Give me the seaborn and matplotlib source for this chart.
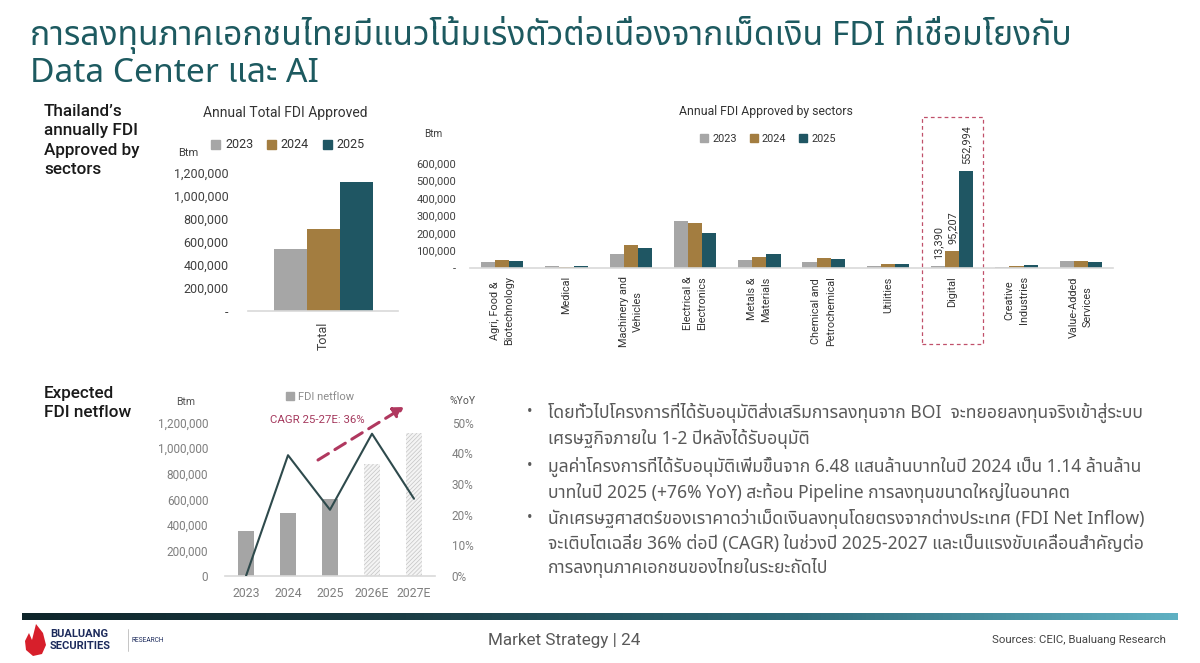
import numpy as np
import pandas as pd
import matplotlib
matplotlib.use("Agg")
import matplotlib.pyplot as plt
import seaborn as sns
from matplotlib import font_manager as fm
from matplotlib.ft2font import FT2Font
from matplotlib.patches import Rectangle, Polygon, Patch
from matplotlib.transforms import blended_transform_factory
from matplotlib.lines import Line2D
from matplotlib.colors import LinearSegmentedColormap
from matplotlib.ticker import FuncFormatter, FixedLocator

# ------------------------------------------------------------------ data
years = ["2023", "2024", "2025"]
total_fdi = [540000, 714000, 1122000]

sectors = ["Agri, Food &\nBiotechnology", "Medical", "Machinery and\nVehicles",
           "Electrical &\nElectronics", "Metals &\nMaterials", "Chemical and\nPetrochemical",
           "Utilities", "Digital", "Creative\nIndustries", "Value-Added\nServices"]
sector_2023 = [35000, 13000, 81000, 267000, 44000, 35000, 13000, 13390, 6000, 38000]
sector_2024 = [44000, 6000, 129000, 256000, 62000, 60000, 21000, 95207, 9000, 38000]
sector_2025 = [42000, 12000, 117000, 202000, 81000, 50000, 21000, 552994, 19000, 33000]
highlight_sector = "Digital"

netflow_years = ["2023", "2024", "2025", "2026E", "2027E"]
netflow = [352000, 496000, 603000, 877000, 1117000]
netflow_yoy = [0.0, 39.4, 21.6, 46.4, 25.2]
forecast_years = ["2026E", "2027E"]

ticks_total = [0, 200000, 400000, 600000, 800000, 1000000, 1200000]
ticks_sector = [0, 100000, 200000, 300000, 400000, 500000, 600000]
ticks_yoy = [0, 10, 20, 30, 40, 50]

title_lines = ["การลงทุนภาคเอกชนไทยมีแนวโน้มเร่งตัวต่อเนื่องจากเม็ดเงิน FDI ที่เชื่อมโยงกับ",
               "Data Center และ AI"]
bullet_lines = [
    ("•", "โดยทั่วไปโครงการที่ได้รับอนุมัติส่งเสริมการลงทุนจาก BOI  จะทยอยลงทุนจริงเข้าสู่ระบบ"),
    ("", "เศรษฐกิจภายใน 1-2 ปีหลังได้รับอนุมัติ"),
    ("•", "มูลค่าโครงการที่ได้รับอนุมัติเพิ่มขึ้นจาก 6.48 แสนล้านบาทในปี 2024 เป็น 1.14 ล้านล้าน"),
    ("", "บาทในปี 2025 (+76% YoY) สะท้อน Pipeline การลงทุนขนาดใหญ่ในอนาคต"),
    ("•", "นักเศรษฐศาสตร์ของเราคาดว่าเม็ดเงินลงทุนโดยตรงจากต่างประเทศ (FDI Net Inflow)"),
    ("", "จะเติบโตเฉลี่ย 36% ต่อปี (CAGR) ในช่วงปี 2025-2027 และเป็นแรงขับเคลื่อนสำคัญต่อ"),
    ("", "การลงทุนภาคเอกชนของไทยในระยะถัดไป"),
]

# ------------------------------------------------------------------ fonts
def find_thai_font():
    cands = []
    for f in fm.fontManager.ttflist:
        try:
            cmap = FT2Font(f.fname).get_charmap()
        except Exception:
            continue
        if 0x0E01 in cmap and 0x0E32 in cmap:
            n = f.name
            score = 3
            if "Noto Sans Thai" in n and "Looped" not in n:
                score = 0
            elif "Sans" in n and "Looped" not in n:
                score = 1
            elif "Looped" not in n:
                score = 2
            cands.append((score, n))
    cands.sort()
    return cands[0][1] if cands else None

sns.set_style("white")
thai = find_thai_font()
LAT = ["Roboto", "DejaVu Sans"]
TH = ([thai] if thai else []) + ["Roboto", "DejaVu Sans"]
plt.rcParams["font.family"] = LAT
plt.rcParams["hatch.linewidth"] = 0.5

C23, C24, C25 = "#a6a6a6", "#a37d40", "#1f5663"
palette = {"2023": C23, "2024": C24, "2025": C25}
TEAL = "#1d5a60"

W, H = 1200, 663
fig = plt.figure(figsize=(12, 6.63), dpi=100)
fig.patch.set_facecolor("white")

def rect(l, t, r, b):
    return [l / W, 1 - b / H, (r - l) / W, (b - t) / H]

def fx(x):
    return x / W

def fy(y):
    return 1 - y / H

def clean(ax, color="#d9d9d9"):
    for s in ["top", "right", "left"]:
        ax.spines[s].set_visible(False)
    ax.spines["bottom"].set_color(color)
    ax.spines["bottom"].set_linewidth(1.2)
    ax.tick_params(length=0)
    ax.set_xlabel("")
    ax.set_ylabel("")

# ------------------------------------------------------------------ title
fig.text(fx(30), fy(35), title_lines[0], family=TH, fontsize=24.2, fontweight="medium",
         color=TEAL, va="center", ha="left")
fig.text(fx(30), fy(73), title_lines[1], family=TH, fontsize=24.2, fontweight="medium",
         color=TEAL, va="center", ha="left")

# ------------------------------------------------------------------ chart 1
fig.text(fx(44), fy(104), "Thailand’s\nannually FDI\nApproved by\nsectors", fontsize=12.3,
         fontweight="medium", color="#1a1a1a", va="top", ha="left", linespacing=1.37)

ax1 = fig.add_axes(rect(248, 172.7, 398, 311))
df1 = pd.DataFrame({"cat": ["Total"] * len(years), "year": years, "value": total_fdi})
sns.barplot(data=df1, x="cat", y="value", hue="year", palette=palette, width=0.66,
            saturation=1, linewidth=0, legend=False, ax=ax1)
ax1.set_ylim(0, ticks_total[-1])
ax1.set_xlim(-0.5, 0.5)
ax1.yaxis.set_major_locator(FixedLocator(ticks_total))
ax1.yaxis.set_major_formatter(FuncFormatter(lambda v, p: "-" if v == 0 else f"{v:,.0f}"))
clean(ax1)
ax1.tick_params(axis="y", labelsize=9, labelcolor="#404040", pad=14)
ax1.tick_params(axis="x", labelsize=9, labelcolor="#404040", pad=8, labelrotation=90)
fig.text(fx(285), fy(113), "Annual Total FDI Approved", fontsize=10, color="#333333", ha="center", va="center")
fig.text(fx(178), fy(153), "Btm", fontsize=8, color="#404040", ha="left", va="center")
handles = [Patch(color=palette[y]) for y in years]
fig.legend(handles, years, loc="center", bbox_to_anchor=(fx(288), fy(145)), ncol=3, frameon=False,
           handlelength=0.7, handleheight=0.7, handletextpad=0.4, columnspacing=1.1, fontsize=9,
           labelcolor="#333333")

# ------------------------------------------------------------------ chart 2
ax2 = fig.add_axes(rect(470, 163, 1113, 268))
df2 = pd.DataFrame({
    "sector": sectors * 3,
    "year": [years[0]] * len(sectors) + [years[1]] * len(sectors) + [years[2]] * len(sectors),
    "value": sector_2023 + sector_2024 + sector_2025,
})
sns.barplot(data=df2, x="sector", y="value", hue="year", palette=palette, width=0.66,
            saturation=1, linewidth=0, legend=False, ax=ax2)
ax2.set_ylim(0, ticks_sector[-1])
ax2.yaxis.set_major_locator(FixedLocator(ticks_sector))
ax2.yaxis.set_major_formatter(FuncFormatter(lambda v, p: "-" if v == 0 else f"{v:,.0f}"))
clean(ax2)
ax2.tick_params(axis="y", labelsize=8, labelcolor="#404040", pad=10)
ax2.set_xticks(range(len(sectors)))
ax2.set_xticklabels(sectors, rotation=90, ha="center", va="top", multialignment="center",
                    linespacing=1.55, fontsize=7.8, color="#333333")
ax2.tick_params(axis="x", pad=6)
hi = sectors.index(highlight_sector)
series = [sector_2023, sector_2024, sector_2025]
for cont, vals in zip(ax2.containers, series):
    bar = cont.patches[hi]
    ax2.annotate(f"{vals[hi]:,}", (bar.get_x() + bar.get_width() / 2, bar.get_height()),
                 xytext=(0, 5), textcoords="offset points", rotation=90, ha="center", va="bottom",
                 fontsize=7.8, color="#333333", annotation_clip=False)
tr = blended_transform_factory(ax2.transData, fig.transFigure)
ax2.add_patch(Rectangle((hi - 0.47, fy(344)), 0.95, fy(117) - fy(344), transform=tr, fill=False,
                        edgecolor="#c0506a", linestyle=(0, (3, 2.5)), linewidth=0.9, clip_on=False))
fig.text(fx(766), fy(112), "Annual FDI Approved by sectors", fontsize=8.8, color="#333333", ha="center", va="center")
fig.text(fx(424), fy(134), "Btm", fontsize=7.2, color="#404040", ha="left", va="center")
fig.legend(handles, years, loc="center", bbox_to_anchor=(fx(768), fy(139)), ncol=3, frameon=False,
           handlelength=0.7, handleheight=0.7, handletextpad=0.4, columnspacing=1.2, fontsize=7.8,
           labelcolor="#333333")

# ------------------------------------------------------------------ chart 3
fig.text(fx(44), fy(386), "Expected\nFDI netflow", fontsize=12.3, fontweight="medium",
         color="#1a1a1a", va="top", ha="left", linespacing=1.37)
ax3 = fig.add_axes(rect(225, 422.7, 435, 576))
df3 = pd.DataFrame({"year": netflow_years, "value": netflow})
sns.barplot(data=df3, x="year", y="value", color="#a5a5a5", width=0.4, saturation=1, linewidth=0, ax=ax3)
for p, yr in zip(ax3.patches, netflow_years):
    if yr in forecast_years:
        p.set_facecolor("#f4f4f4")
        p.set_edgecolor("#c4c4c4")
        p.set_linewidth(0)
        p.set_hatch("////////")
ax3.set_ylim(0, ticks_total[-1])
ax3.yaxis.set_major_locator(FixedLocator(ticks_total))
ax3.yaxis.set_major_formatter(FuncFormatter(lambda v, p: f"{v:,.0f}"))
clean(ax3)
ax3.tick_params(axis="y", labelsize=8.5, labelcolor="#7f7f7f", pad=12)
ax3.tick_params(axis="x", labelsize=8.8, labelcolor="#7f7f7f", pad=8)

ax3b = ax3.twinx()
df3b = pd.DataFrame({"year": netflow_years, "yoy": netflow_yoy})
sns.pointplot(data=df3b, x="year", y="yoy", color="#2e4a4c", marker="", linewidth=1.5, ax=ax3b)
ax3b.set_ylim(0, ticks_yoy[-1])
ax3b.yaxis.set_major_locator(FixedLocator(ticks_yoy))
ax3b.yaxis.set_major_formatter(FuncFormatter(lambda v, p: f"{v:.0f}%"))
for s in ax3b.spines.values():
    s.set_visible(False)
ax3b.tick_params(length=0, labelsize=8.5, labelcolor="#7f7f7f", pad=12)
ax3b.set_ylabel("")
ax3b.set_xlabel("")
ax3.set_xlim(-0.5, len(netflow_years) - 0.5)

fig.text(fx(176), fy(402), "Btm", fontsize=7.5, color="#555555", ha="left", va="center")
fig.text(fx(450), fy(401), "%YoY", fontsize=7.5, color="#555555", ha="left", va="center")
fig.legend([Patch(color="#a5a5a5")], ["FDI netflow"], loc="center", bbox_to_anchor=(fx(320), fy(397)),
           frameon=False, handlelength=0.7, handleheight=0.7, handletextpad=0.4, fontsize=8,
           labelcolor="#8c8c8c")
fig.text(fx(270), fy(420), "CAGR 25-27E: 36%", fontsize=8.2, color="#a53a5e", ha="left", va="center")
fig.add_artist(matplotlib.patches.FancyArrowPatch(
    (fx(318), fy(460)), (fx(404), fy(407)), transform=fig.transFigure,
    arrowstyle="-|>,head_length=6,head_width=3.5", linestyle=(0, (4, 2.5)), linewidth=2.2,
    color="#b0385f", shrinkA=0, shrinkB=0))

# ------------------------------------------------------------------ bullets
ys = [413, 439, 467, 493, 519, 544, 568]
for (b, t), y in zip(bullet_lines, ys):
    if b:
        fig.text(fx(527), fy(y), b, family=TH, fontsize=10.5, color="#595959", ha="left", va="center")
    fig.text(fx(548), fy(y), t, family=TH, fontsize=12.6, color="#595959", ha="left", va="center")

# ------------------------------------------------------------------ footer
axg = fig.add_axes(rect(22, 613, 1178, 620))
cmap = LinearSegmentedColormap.from_list("g", ["#0e252a", "#1b3d45", "#2d6a78", "#5fb0c2"])
axg.imshow(np.linspace(0, 1, 256)[None, :], aspect="auto", cmap=cmap)
axg.axis("off")

flame = [(36, 624), (43, 633), (46, 645), (42, 654), (33, 656), (26, 650), (25, 641), (29, 633), (32, 640)]
fig.add_artist(Polygon([(fx(x), fy(y)) for x, y in flame], closed=True, transform=fig.transFigure,
                       facecolor="#d71f2b", edgecolor="none"))
fig.text(fx(50), fy(634), "BUALUANG", fontsize=8, fontweight="bold", color="#1d2b5c", ha="left", va="center")
fig.text(fx(50), fy(646), "SECURITIES", fontsize=8, fontweight="bold", color="#1d2b5c", ha="left", va="center")
fig.add_artist(Line2D([fx(128), fx(128)], [fy(629), fy(651)], transform=fig.transFigure,
                      color="#bbbbbb", linewidth=0.6))
fig.text(fx(132), fy(640), "RESEARCH", fontsize=4.8, color="#1d2b5c", ha="left", va="center")
fig.text(fx(564), fy(640), "Market Strategy | 24", fontsize=12.3, color="#595959", ha="center", va="center")
fig.text(fx(1166), fy(640), "Sources: CEIC, Bualuang Research", fontsize=8.2, color="#444444",
         ha="right", va="center")

fig.savefig("out.png", dpi=100, facecolor="white")
